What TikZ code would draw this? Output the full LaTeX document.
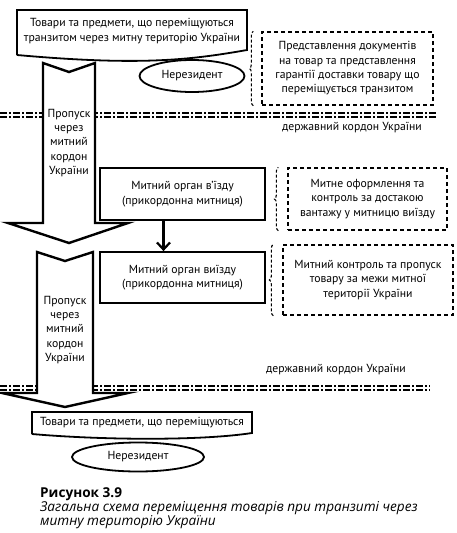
\documentclass[tikz,border=0pt]{standalone}
\usepackage{fontspec}
\setmainfont{PT Sans}
\newfontfamily\captionfont{Open Sans}
\usetikzlibrary{calc,shapes.geometric,arrows.meta,decorations.pathreplacing}
\tikzset{
	organ/.style={draw, line width=1.8pt, minimum width=165pt, minimum height=52pt, align=center},
	dashbox/.style={draw, dash pattern=on 4pt off 3pt, line width=1.3pt, align=center, inner sep=2pt},
	nonres/.style={draw, ellipse, line width=1.8pt, fill=white, inner sep=0pt},
	border/.style={double=white, line width=1.8pt, double distance=2.4pt, dash pattern=on 7pt off 2pt on 2pt off 2pt},
	bigarrow/.style={draw, line width=2.4pt, fill=white, line join=miter},
	bracket/.style={dash pattern=on 3pt off 2pt, line width=1.1pt, decorate, decoration={brace, amplitude=4pt}},
}
% hollow arrow: (left, right, top, wing y, wing left, wing right, tip y)
\def\passarrow(#1,#2,#3,#4,#5,#6,#7){\draw[bigarrow] (#1,#3) -- ({(#1+#2)/2},{#3+9}) -- (#2,#3) -- (#2,#4) -- (#6,#4) -- ({(#1+#2)/2},#7) -- (#5,#4) -- (#1,#4) -- cycle;}

\begin{document}
\begin{tikzpicture}[x=1pt, y=-1pt, font=\fontsize{11.7}{14.3}\selectfont]
		%%%%% START %%%%%
		\useasboundingbox (0,0) rectangle (456,533);
		
		% state border lines
		\draw[border] (0,115) -- (437,115);
		\node (border1) at (352,128) {державний кордон України};
		\draw[border] (0,388) -- (430,388);
		\node (border2) at (336,370) {державний кордон України};
		
		% passage arrows
		\passarrow(43,95,63,223,8,128,243)
		\node[align=center] (pass1) at (69,143) {Пропуск\\через\\митний\\кордон\\України};
		\passarrow(37,93,252,393,2,128,407)
		\node[align=center] (pass2) at (65,330) {Пропуск\\через\\митний\\кордон\\України};
		
		% goods in transit
		\draw[line width=1.8pt, fill=white] (17,55) -- (17,10) -- (247,10) -- (247,50) .. controls (190,60) and (140,66) .. (17,55);
		\node[align=center] (transit) at (132,31) {Товари та предмети, що переміщуються\\транзитом через митну територію України};
		\node[nonres, minimum width=105pt, minimum height=32pt] (nonres1) at (192,76) {Нерезидент};
		
		\node[dashbox, minimum width=171pt, minimum height=73pt] (docs) at (347.5,68.5) {Представлення документів\\на товар та представлення\\гарантії доставки товару що\\переміщується транзитом};
		\draw[bracket] ($(docs.south west)+(-8,0)$) -- ($(docs.north west)+(-8,0)$);
		
		% customs offices
		\node[organ] (entry) at (182.5,194) {Митний орган в'їзду\\(прикордонна митниця)};
		\node[organ, minimum height=51pt] (exit) at (182.5,277.5) {Митний орган виїзду\\(прикордонна митниця)};
		\draw[line width=2.2pt, -{Straight Barb[length=7pt,width=13pt]}] ($(entry.south)+(-19,0)$) -- ($(exit.north)+(-19,0)$);
		
		\node[dashbox, minimum width=159pt, minimum height=62pt] (clear) at (367.5,199) {Митне оформлення та\\контроль за достакою\\вантажу у митницю виїзду};
		\draw[bracket] ($(clear.south west)+(-9,0)$) -- ($(clear.north west)+(-9,0)$);
		\node[dashbox, minimum width=170pt, minimum height=70pt] (release) at (368,280) {Митний контроль та пропуск\\товару за межи митної\\території України};
		\draw[bracket] ($(release.south west)+(-9,0)$) -- ($(release.north west)+(-9,0)$);
		
		% goods leaving
		\draw[line width=1.8pt, fill=white] (32,434) -- (32,412) -- (252,412) -- (252,433) .. controls (200,441) and (100,440) .. (32,434);
		\node (leaving) at (142,423) {Товари та предмети, що переміщуються};
		\node[nonres, minimum width=132pt, minimum height=29pt] (nonres2) at (138,457) {Нерезидент};
		
		% caption
		\node[anchor=base west, inner sep=0pt, font=\captionfont\fontsize{13.6}{14}\selectfont\bfseries] (figno) at (40,497) {Рисунок 3.9};
		\node[anchor=north west, align=left, inner sep=0pt, font=\captionfont\fontsize{13.6}{13.8}\selectfont\itshape] (figtitle) at (40,501.5) {Загальна схема переміщення товарів при транзиті через\\митну територію України};
		%%%%% END %%%%%
\end{tikzpicture}
\end{document}
